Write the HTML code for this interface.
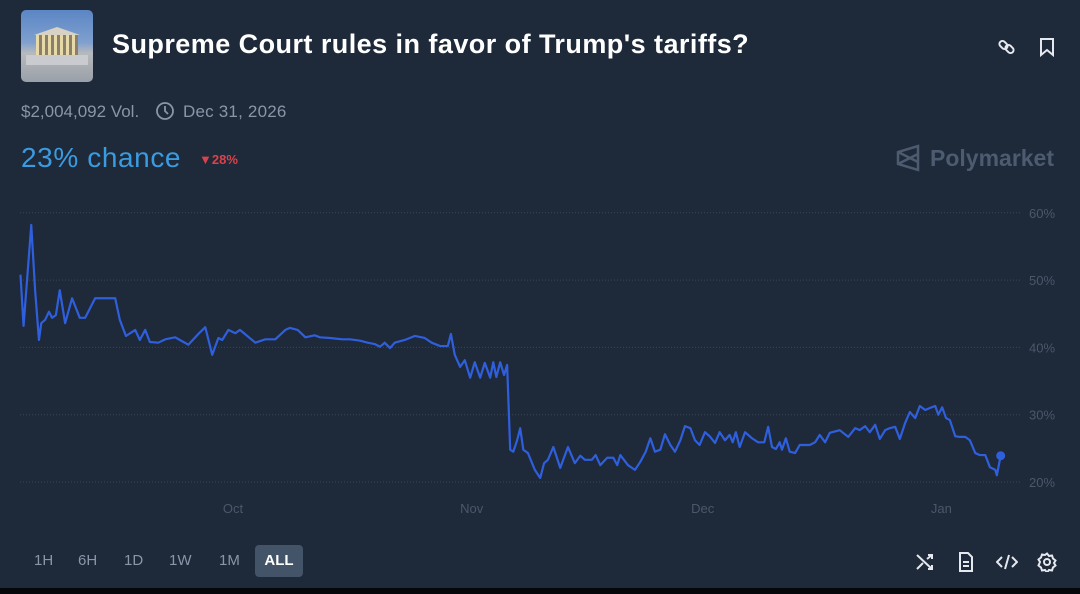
<!DOCTYPE html>
<html><head><meta charset="utf-8"><style>
body{margin:0;width:1080px;height:594px;background:#1e2939;overflow:hidden;font-family:"Liberation Sans",sans-serif;position:relative}
.a{position:absolute}
.tb{color:#8a96a8;font-size:15px;top:552px}
</style></head><body>
<div class="a" style="left:21px;top:10px;width:72px;height:72px;border-radius:5px;overflow:hidden;background:linear-gradient(#5b86c4 0%,#7fa0cf 45%,#b7b9bd 60%,#9aa0a9 100%)">
<div style="position:absolute;left:13px;top:17px;width:46px;height:8px;background:#d8d2c4;clip-path:polygon(50% 0,100% 100%,0 100%)"></div>
<div style="position:absolute;left:15px;top:25px;width:42px;height:20px;background:repeating-linear-gradient(90deg,#e7d9a8 0 3px,#8a7f6a 3px 6px)"></div>
<div style="position:absolute;left:5px;top:45px;width:62px;height:10px;background:#c9cbcf"></div></div>
<div class="a" style="left:112px;top:29px;color:#fff;font-size:27px;font-weight:bold;letter-spacing:0.45px">Supreme Court rules in favor of Trump's tariffs?</div>
<svg class="a" style="left:996px;top:36px" width="22" height="22" viewBox="0 0 22 22" fill="none" stroke="#e5e9ef" stroke-width="2"><rect x="3" y="6" width="9" height="6" rx="3" transform="rotate(45 7.5 9)"/><rect x="9" y="10" width="9" height="6" rx="3" transform="rotate(45 13.5 13)"/></svg>
<svg class="a" style="left:1038px;top:37px" width="18" height="20" viewBox="0 0 18 20" fill="none" stroke="#e5e9ef" stroke-width="2"><path d="M3 2h12v16l-6-5-6 5z"/></svg>
<div class="a" style="left:21px;top:102px;color:#8a96a8;font-size:17px">$2,004,092 Vol.</div>
<svg class="a" style="left:155px;top:101px" width="20" height="20" viewBox="0 0 20 20" fill="none" stroke="#8a96a8" stroke-width="1.8"><circle cx="10" cy="10" r="8"/><path d="M10 5v5l3 3"/></svg>
<div class="a" style="left:183px;top:102px;color:#8a96a8;font-size:17px;letter-spacing:0.2px">Dec 31, 2026</div>
<div class="a" style="left:21px;top:142px;color:#3b9be0;font-size:28px;letter-spacing:0.6px">23% chance</div>
<div class="a" style="left:199px;top:152px;color:#d9434b;font-size:13px;font-weight:bold">▼28%</div>
<div class="a" style="left:896px;top:144px;color:#4c5b70;font-size:23px;font-weight:bold;display:flex;align-items:center;gap:10px">
<svg width="24" height="28" viewBox="0 0 24 28" fill="none" stroke="#4c5b70" stroke-width="2.5"><path d="M22 2v24L2 20V8z M2 8l20 10 M2 20l20-10"/></svg>Polymarket</div>
<svg class="a" id="chart" style="left:0;top:195px" width="1080" height="330"></svg>
<div class="a tb" style="left:34px">1H</div>
<div class="a tb" style="left:78px">6H</div>
<div class="a tb" style="left:124px">1D</div>
<div class="a tb" style="left:169px">1W</div>
<div class="a tb" style="left:219px">1M</div>
<div class="a" style="left:255px;top:545px;width:48px;height:32px;border-radius:4px;background:#435368;color:#fff;font-size:15px;font-weight:bold;text-align:center;line-height:32px">ALL</div>
<svg class="a" style="left:915px;top:552px" width="20" height="20" viewBox="0 0 20 20" fill="none" stroke="#e5e9ef" stroke-width="2"><path d="M2 3l15 14M2 17L8 11M12 7l5-4M13 3h4v4M13 17h4v-4"/></svg>
<svg class="a" style="left:957px;top:552px" width="18" height="20" viewBox="0 0 18 20" fill="none" stroke="#e5e9ef" stroke-width="2"><path d="M3 1h8l4 4v14H3z M6 10h6M6 14h6"/></svg>
<svg class="a" style="left:996px;top:552px" width="22" height="20" viewBox="0 0 22 20" fill="none" stroke="#e5e9ef" stroke-width="2"><path d="M6 5l-5 5 5 5M16 5l5 5-5 5M13 3l-4 14"/></svg>
<svg class="a" style="left:1037px;top:552px" width="20" height="20" viewBox="0 0 20 20" fill="none" stroke="#e5e9ef" stroke-width="2"><circle cx="10" cy="10" r="3"/><path d="M10 1.5l2 2.5 3-.5 1 3 2.5 2-1.5 2.5 1.5 2.5-2.5 2-1 3-3-.5-2 2.5-2-2.5-3 .5-1-3-2.5-2L3 10 1.5 7.5 4 5.5l1-3 3 .5z"/></svg>
<div class="a" style="left:0;top:588px;width:1080px;height:6px;background:#05070a"></div>
<script>
const days=[-27.6,-27.2,-26.2,-25.7,-25.2,-24.9,-24.4,-23.9,-23.5,-23.0,-22.5,-21.8,-20.9,-19.9,-19.2,-17.9,-15.3,-14.7,-13.9,-12.7,-12.1,-11.4,-10.8,-9.7,-8.8,-7.5,-6.9,-5.8,-4.5,-3.6,-2.7,-1.9,-1.4,-0.6,0.3,0.9,2.9,4.2,5.5,6.8,7.4,8.4,9.4,10.6,11.3,12.6,14.2,15.2,16.5,17.5,18.4,19.1,19.7,20.4,21.0,22.3,23.6,24.9,25.8,26.9,27.9,28.3,28.8,29.5,30.1,30.8,31.4,32.1,32.7,33.4,33.8,34.2,34.7,35.2,35.6,36.0,36.4,36.9,37.3,37.7,38.3,39.2,39.9,40.4,40.9,41.6,42.5,43.5,44.4,45.1,45.7,46.6,47.1,47.7,48.6,49.4,49.9,50.3,51.3,52.2,52.9,53.6,54.2,54.8,55.5,56.1,56.8,57.4,58.1,58.7,59.4,60.0,60.6,61.3,61.9,62.6,63.2,63.9,64.5,64.9,65.3,65.8,66.5,67.4,68.2,69.0,69.5,70.0,70.5,71.0,71.3,71.8,72.3,73.0,73.6,74.9,75.6,76.2,76.9,77.5,78.8,79.9,80.8,81.4,82.1,82.7,83.4,84.0,84.7,85.3,86.0,86.6,87.3,87.9,88.6,89.2,89.9,90.5,91.2,91.6,92.1,92.6,93.1,93.8,94.4,95.1,95.7,96.4,97.0,97.7,98.3,99.0,99.2,99.7];
const values=[50.8,43.2,58.2,48.5,41.1,43.6,44.1,45.3,44.4,44.8,48.5,43.6,47.3,44.4,44.4,47.3,47.3,44.1,41.7,42.6,41.1,42.6,40.8,40.7,41.2,41.5,41.1,40.4,42.0,43.0,38.9,41.4,41.1,42.6,42.1,42.6,40.7,41.2,41.2,42.6,42.9,42.6,41.5,41.8,41.5,41.4,41.2,41.2,41.0,40.7,40.5,40.1,40.7,39.9,40.7,41.1,41.7,41.4,40.7,40.2,40.2,42.0,38.9,37.1,38.1,35.5,37.8,35.5,37.7,35.5,37.8,35.6,37.8,35.9,37.4,24.8,24.5,26.2,28.0,24.8,24.3,21.8,20.6,22.8,23.3,25.2,22.1,25.2,22.8,23.9,23.3,23.3,24.0,22.5,23.6,23.6,22.5,24.0,22.5,21.8,23.0,24.5,26.5,24.5,24.8,27.1,25.5,24.5,26.2,28.3,28.0,26.2,25.5,27.4,26.8,25.8,27.4,26.2,27.0,25.9,27.4,25.2,27.4,26.5,25.9,25.9,28.2,25.2,24.9,25.9,24.8,26.5,24.5,24.3,25.5,25.5,25.9,27.0,25.9,27.3,27.7,26.7,28.0,27.7,28.3,27.4,28.5,26.4,27.7,28.0,28.2,26.4,28.8,30.4,29.5,31.3,30.7,31.0,31.3,30.0,31.1,29.5,29.2,26.8,26.7,26.7,26.2,24.3,24.0,24.0,22.2,21.8,21.0,23.9];
const yTicks=[20,30,40,50,60];
const monthLabels=["Oct","Nov","Dec","Jan"];
const monthDays=[0,31,61,92];
const NS="http://www.w3.org/2000/svg";
const svg=document.getElementById('chart');
const X=d=>233+d*7.7;
const Y=v=>287-(v-20)*6.73;
function el(t,a){const e=document.createElementNS(NS,t);for(const k in a)e.setAttribute(k,a[k]);svg.appendChild(e);return e;}
yTicks.forEach(t=>{
 const g=el('line',{x1:20,x2:1020,y1:Y(t),y2:Y(t),stroke:'#3a4656','stroke-width':1,'stroke-dasharray':'1 2'});
 
 
 const l=el('text',{x:1029,y:Y(t)+5,fill:'#4b586b','font-size':13,'font-family':'Liberation Sans'});
 l.textContent=t+'%';
 
 
});
monthLabels.forEach((m,i)=>{
 const l=el('text',{x:X(monthDays[i]),y:318,fill:'#4b586b','font-size':13,'text-anchor':'middle','font-family':'Liberation Sans'});
 l.textContent=m;
 
 
});
const p=el('polyline',{points:days.map((d,i)=>X(d)+','+Y(values[i])).join(' '),fill:'none',stroke:'#2f5fdc','stroke-width':2.2,'stroke-linejoin':'round'});


const n=days.length-1;
const c=el('circle',{cx:X(days[n]),cy:Y(values[n]),r:4.5,fill:'#2f5fdc'});


</script>
</body></html>
